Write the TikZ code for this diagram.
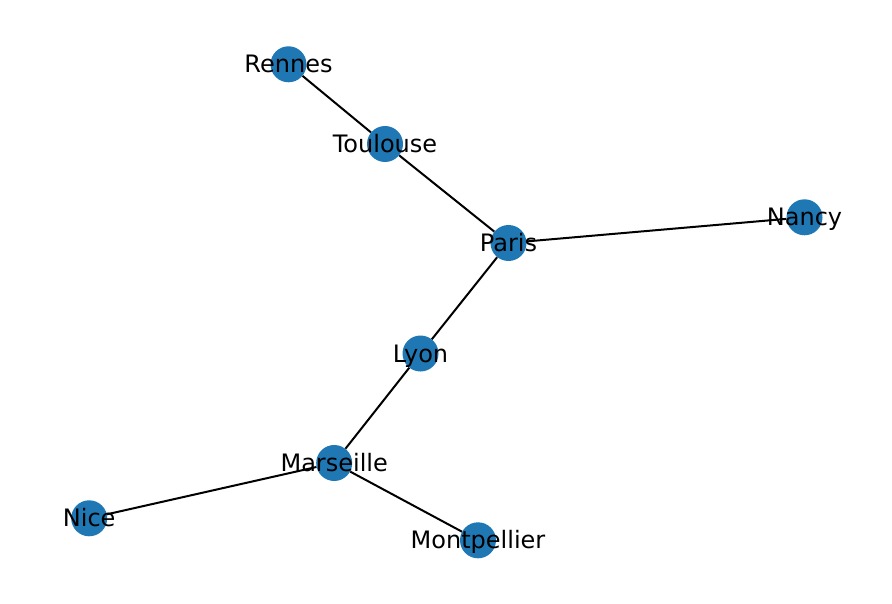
\documentclass[tikz,border=0pt]{standalone}
\usepackage{fontspec}
\setmainfont{DejaVu Sans}
\definecolor{nodeblue}{HTML}{1F77B4}
\begin{document}
\begin{tikzpicture}[x=1pt,y=-1pt,
  city/.style={circle,fill=nodeblue,minimum size=36pt,inner sep=0pt},
  citylabel/.style={font=\fontsize{24}{29}\selectfont,text=black,inner sep=0pt,
    yshift=-2pt,execute at begin node=\vphantom{lp}},
  road/.style={draw=black,line width=2pt}]
\useasboundingbox (0,0) rectangle (892,604);
% city markers
\node[city] (rennes) at (288.5,64.3) {};
\node[city] (toulouse) at (385,144) {};
\node[city] (paris) at (508.5,243) {};
\node[city] (nancy) at (804.5,217.3) {};
\node[city] (lyon) at (420.5,353.5) {};
\node[city] (marseille) at (334.2,463) {};
\node[city] (nice) at (89.2,518.3) {};
\node[city] (montpellier) at (478,540.3) {};
% roads
\draw[road] (rennes) -- (toulouse);
\draw[road] (toulouse) -- (paris);
\draw[road] (paris) -- (nancy);
\draw[road] (paris) -- (lyon);
\draw[road] (lyon) -- (marseille);
\draw[road] (marseille) -- (nice);
\draw[road] (marseille) -- (montpellier);
% city names
\node[citylabel] (lrennes) at (rennes) {Rennes};
\node[citylabel] (ltoulouse) at (toulouse) {Toulouse};
\node[citylabel] (lparis) at (paris) {Paris};
\node[citylabel] (lnancy) at (nancy) {Nancy};
\node[citylabel] (llyon) at (lyon) {Lyon};
\node[citylabel] (lmarseille) at (marseille) {Marseille};
\node[citylabel] (lnice) at (nice) {Nice};
\node[citylabel] (lmontpellier) at (montpellier) {Montpellier};
\end{tikzpicture}
\end{document}
